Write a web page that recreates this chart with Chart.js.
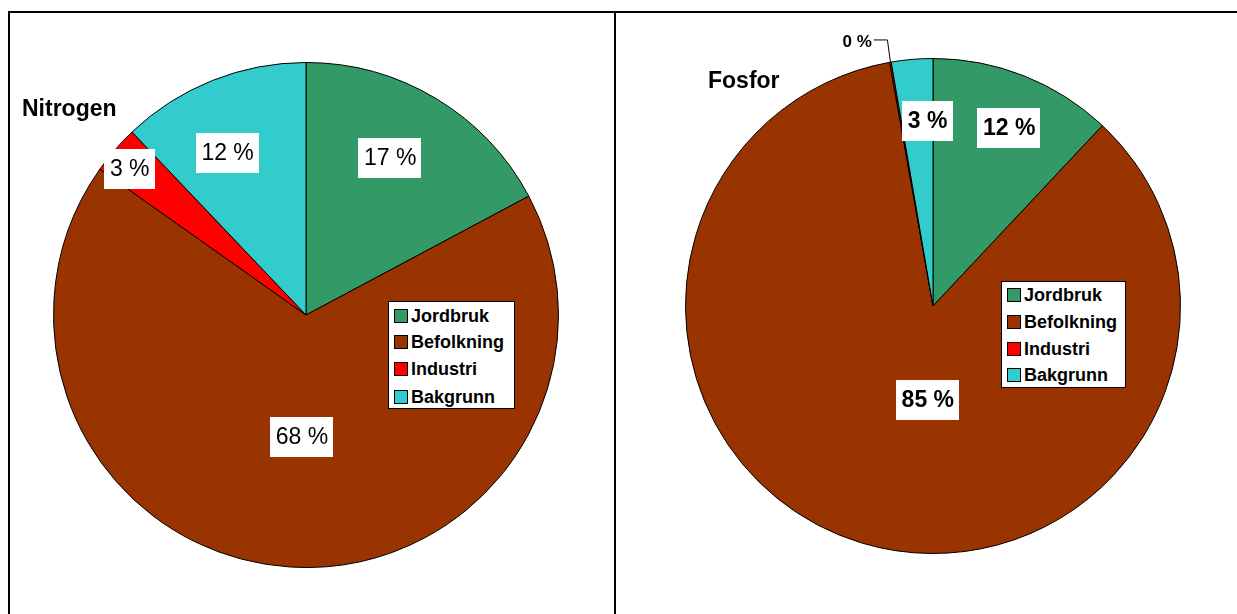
<!DOCTYPE html>
<html><head><meta charset="utf-8">
<script src="https://cdn.jsdelivr.net/npm/chart.js@4.4.0/dist/chart.umd.min.js"></script>
<style>
html,body{margin:0;padding:0;background:#fff;}
#page{position:relative;width:1237px;height:614px;overflow:hidden;font-family:"Liberation Sans",Arial,sans-serif;color:#000;}
canvas{position:absolute;top:0;}
.line{position:absolute;background:#000;z-index:5;}
.title{position:absolute;font-weight:bold;font-size:23px;line-height:23px;white-space:nowrap;z-index:4;}
.legend{position:absolute;background:#fff;border:1px solid #000;z-index:4;box-sizing:border-box;}
.lrow{position:absolute;left:5px;height:20px;line-height:20px;font-weight:bold;font-size:18px;white-space:nowrap;}
.sw{position:absolute;width:14px;height:14px;box-sizing:border-box;border:1px solid #000;top:3px;left:0;}
.lt{position:absolute;left:17px;top:0;}
</style></head>
<body><div id="page">
<canvas id="c1" width="615" height="614" style="left:0;width:615px;height:614px"></canvas>
<canvas id="c2" width="622" height="614" style="left:615px;width:622px;height:614px"></canvas>
<div class="line" style="left:8px;top:11px;width:1240px;height:2px"></div>
<div class="line" style="left:8px;top:11px;width:2px;height:610px"></div>
<div class="line" style="left:614px;top:11px;width:2px;height:610px"></div>
<div class="title" id="t1" style="left:22px;top:97px"></div>
<div class="title" id="t2" style="left:708px;top:69px"></div>
<div class="legend" id="lg1" style="left:388px;top:301px;width:127px;height:108px"></div>
<div class="legend" id="lg2" style="left:1001px;top:281px;width:125px;height:107px"></div>
</div>
<script>
// ---- data ----
const categories = ["Jordbruk", "Befolkning", "Industri", "Bakgrunn"];
const nitrogenValues = [17.2, 67.6, 3.1, 12.1];
const fosforValues = [12.0, 85.2, 0.1, 2.7];
const chartTitles = ["Nitrogen", "Fosfor"];

// ---- styles ----
const sliceColors = ["#339966", "#993300", "#FF0000", "#33CCCC"];
const FONT = '"Liberation Sans", Arial, sans-serif';

// label placement: [radius fraction, angle offset (deg, clockwise), outside-with-leader]
const nitrogenPlace = [[0.706, -2.8], [0.482, -1.7], [0.907, -1.2], [0.714, -4]];
const fosforPlace = [[0.784, 1.5], [0.38, -13.4], [1.112, -6.1, true], [0.748, 3.2]];

const labelPlugin = {
  id: 'pctLabels',
  afterDatasetsDraw(chart, args, opts) {
    const ctx = chart.ctx;
    const meta = chart.getDatasetMeta(0);
    const data = chart.data.datasets[0].data;
    const total = data.reduce((a, b) => a + b, 0);
    meta.data.forEach((arc, i) => {
      const p = opts.place[i];
      const pr = arc.getProps(['x', 'y', 'startAngle', 'endAngle', 'outerRadius'], true);
      const midA = (pr.startAngle + pr.endAngle) / 2;
      const a = midA + p[1] * Math.PI / 180;
      const r = pr.outerRadius * p[0];
      const cx = pr.x + Math.cos(a) * r, cy = pr.y + Math.sin(a) * r;
      const txt = Math.round(data[i] / total * 100) + ' %';
      ctx.save();
      ctx.textAlign = 'center';
      ctx.textBaseline = 'middle';
      if (p[2]) {
        ctx.font = 'bold 17px ' + FONT;
        const w = ctx.measureText(txt).width;
        ctx.fillStyle = '#000';
        ctx.fillText(txt, cx, cy + 1);
        const ex = pr.x + Math.cos(midA) * pr.outerRadius;
        const ey = pr.y + Math.sin(midA) * pr.outerRadius;
        ctx.strokeStyle = '#000';
        ctx.lineWidth = 1;
        ctx.beginPath();
        ctx.moveTo(cx + w / 2 + 2, cy - 1.5);
        ctx.lineTo(ex - 3, cy - 1.5);
        ctx.lineTo(ex, ey);
        ctx.stroke();
      } else {
        ctx.font = (opts.bold ? 'bold ' : '') + '23px ' + FONT;
        const w = ctx.measureText(txt).width;
        ctx.fillStyle = '#fff';
        ctx.fillRect(Math.round(cx - w / 2 - 5.5), Math.round(cy - 20), Math.round(w + 11), 40);
        ctx.fillStyle = '#000';
        ctx.fillText(txt, cx, cy + 1);
      }
      ctx.restore();
    });
  }
};

function makePie(id, values, padding, place, bold) {
  return new Chart(document.getElementById(id), {
    type: 'pie',
    data: {
      labels: categories,
      datasets: [{
        data: values,
        backgroundColor: sliceColors,
        borderColor: '#000',
        borderWidth: 1
      }]
    },
    options: {
      responsive: false,
      animation: false,
      layout: { padding: padding },
      plugins: {
        legend: { display: false },
        tooltip: { enabled: false },
        pctLabels: { place: place, bold: bold }
      }
    },
    plugins: [labelPlugin]
  });
}

makePie('c1', nitrogenValues, { left: 53, right: 56, top: 62, bottom: 46 }, nitrogenPlace, false);
makePie('c2', fosforValues, { left: 70, right: 56, top: 58, bottom: 60 }, fosforPlace, true);

document.getElementById('t1').textContent = chartTitles[0];
document.getElementById('t2').textContent = chartTitles[1];

function buildLegend(id, rowTops) {
  const box = document.getElementById(id);
  categories.forEach((c, i) => {
    const row = document.createElement('div');
    row.className = 'lrow';
    row.style.top = rowTops[i] + 'px';
    const sw = document.createElement('div');
    sw.className = 'sw';
    sw.style.background = sliceColors[i];
    const t = document.createElement('span');
    t.className = 'lt';
    t.textContent = c;
    row.appendChild(sw);
    row.appendChild(t);
    box.appendChild(row);
  });
}
buildLegend('lg1', [4, 30, 57, 85]);
buildLegend('lg2', [3, 30, 57, 83]);
</script>
</body></html>
